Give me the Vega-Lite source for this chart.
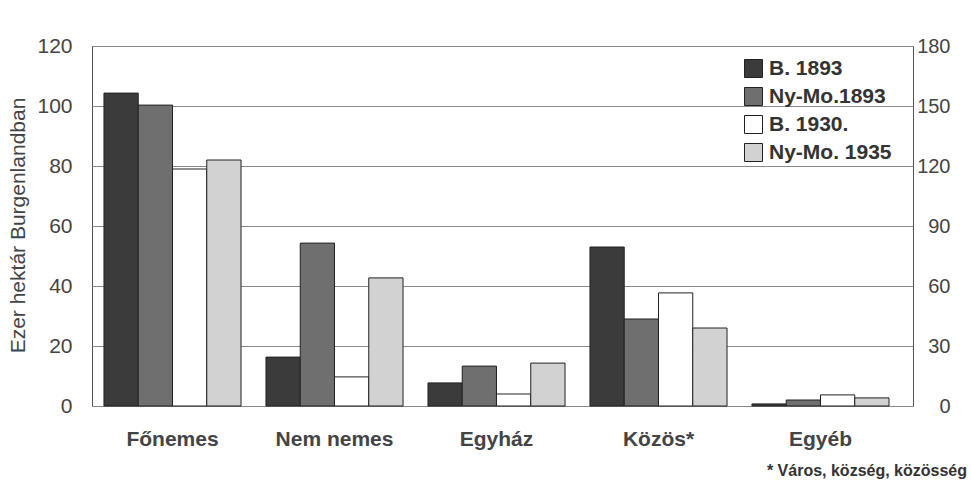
{
  "$schema": "https://vega.github.io/schema/vega-lite/v6.json",
  "width": 821,
  "height": 360,
  "autosize": {"type": "none"},
  "padding": {"left": 92, "top": 46, "right": 58, "bottom": 76},
  "background": "white",
  "config": {
    "font": "Liberation Sans",
    "view": {"stroke": "#555", "strokeWidth": 1}
  },
  "data": {
    "values": [
      {"kat": "Főnemes", "sor": "B. 1893", "ertek": 104.3},
      {"kat": "Főnemes", "sor": "Ny-Mo.1893", "ertek": 100.3},
      {"kat": "Főnemes", "sor": "B. 1930.", "ertek": 79},
      {"kat": "Főnemes", "sor": "Ny-Mo. 1935", "ertek": 82},
      {"kat": "Nem nemes", "sor": "B. 1893", "ertek": 16.3},
      {"kat": "Nem nemes", "sor": "Ny-Mo.1893", "ertek": 54.3},
      {"kat": "Nem nemes", "sor": "B. 1930.", "ertek": 9.7},
      {"kat": "Nem nemes", "sor": "Ny-Mo. 1935", "ertek": 42.7},
      {"kat": "Egyház", "sor": "B. 1893", "ertek": 7.7},
      {"kat": "Egyház", "sor": "Ny-Mo.1893", "ertek": 13.3},
      {"kat": "Egyház", "sor": "B. 1930.", "ertek": 4},
      {"kat": "Egyház", "sor": "Ny-Mo. 1935", "ertek": 14.3},
      {"kat": "Közös*", "sor": "B. 1893", "ertek": 53},
      {"kat": "Közös*", "sor": "Ny-Mo.1893", "ertek": 29},
      {"kat": "Közös*", "sor": "B. 1930.", "ertek": 37.7},
      {"kat": "Közös*", "sor": "Ny-Mo. 1935", "ertek": 26},
      {"kat": "Egyéb", "sor": "B. 1893", "ertek": 0.7},
      {"kat": "Egyéb", "sor": "Ny-Mo.1893", "ertek": 2},
      {"kat": "Egyéb", "sor": "B. 1930.", "ertek": 3.7},
      {"kat": "Egyéb", "sor": "Ny-Mo. 1935", "ertek": 2.7}
    ]
  },
  "title": {
    "text": "* Város, község, közösség",
    "orient": "bottom",
    "anchor": "end",
    "frame": "group",
    "fontSize": 16,
    "fontWeight": "bold",
    "color": "#333",
    "offset": 14,
    "dx": 54
  },
  "encoding": {
    "x": {
      "field": "kat",
      "type": "nominal",
      "sort": ["Főnemes", "Nem nemes", "Egyház", "Közös*", "Egyéb"],
      "scale": {"paddingInner": 0.154, "paddingOuter": 0.111, "align": 0.333},
      "axis": {
        "title": null,
        "labelAngle": 0,
        "labelFontSize": 21,
        "labelFontWeight": "bold",
        "labelColor": "#444",
        "labelPadding": 22,
        "ticks": false,
        "domain": false
      }
    },
    "xOffset": {
      "field": "sor",
      "type": "nominal",
      "sort": ["B. 1893", "Ny-Mo.1893", "B. 1930.", "Ny-Mo. 1935"],
      "scale": {"paddingInner": 0, "paddingOuter": 0}
    }
  },
  "layer": [
    {
      "mark": {"type": "bar", "stroke": "#222", "strokeWidth": 1},
      "encoding": {
        "y": {
          "field": "ertek",
          "type": "quantitative",
          "scale": {"domain": [0, 120], "nice": false},
          "axis": {
            "title": "Ezer hektár Burgenlandban",
            "titleFontSize": 21,
            "titleFontWeight": "normal",
            "titleColor": "#444",
            "titleX": -64,
            "titleY": 179,
            "values": [0, 20, 40, 60, 80, 100, 120],
            "labelFontSize": 21,
            "labelColor": "#444",
            "labelPadding": 20,
            "tickSize": 0,
            "domain": false,
            "grid": true,
            "gridColor": "#888",
            "gridWidth": 1
          }
        },
        "fill": {
          "field": "sor",
          "type": "nominal",
          "sort": ["B. 1893", "Ny-Mo.1893", "B. 1930.", "Ny-Mo. 1935"],
          "scale": {"range": ["#3b3b3b", "#6f6f6f", "#ffffff", "#d2d2d2"]},
          "legend": {
            "title": null,
            "orient": "none",
            "legendX": 651,
            "legendY": 12,
            "symbolType": "square",
            "symbolSize": 324,
            "symbolStrokeColor": "#222",
            "symbolStrokeWidth": 1,
            "symbolOpacity": 1,
            "labelFontSize": 21,
            "labelFontWeight": "bold",
            "labelColor": "#333",
            "labelOffset": 5,
            "rowPadding": 5
          }
        }
      }
    },
    {
      "mark": {"type": "bar", "opacity": 0},
      "encoding": {
        "y": {
          "field": "ertek",
          "type": "quantitative",
          "scale": {"domain": [0, 180], "nice": false},
          "axis": {
            "orient": "right",
            "title": null,
            "values": [0, 30, 60, 90, 120, 150, 180],
            "labelFontSize": 20,
            "labelColor": "#444",
            "labelAlign": "right",
            "labelPadding": 37,
            "tickSize": 0,
            "domain": false,
            "grid": false
          }
        }
      }
    }
  ],
  "resolve": {"scale": {"y": "independent"}}
}
